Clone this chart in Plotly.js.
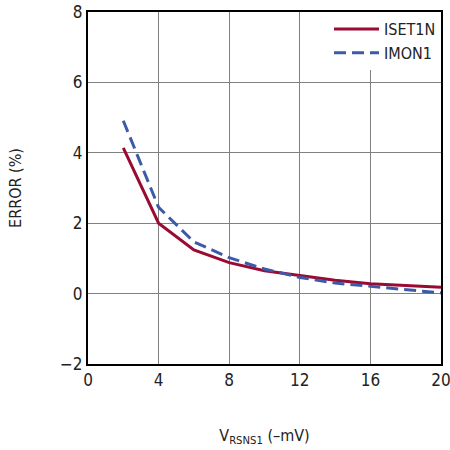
<!DOCTYPE html>
<html><head><meta charset="utf-8">
<script src="https://cdn.plot.ly/plotly-3.0.1.min.js"></script>
<style>body{margin:0;padding:0;background:#fff}#c{width:450px;height:450px}</style>
</head><body><div id="c"></div>
<script>
const xIset = [2, 4, 6, 8, 10, 12, 14, 16, 18, 20];
const yIset = [4.14, 2.0, 1.24, 0.88, 0.65, 0.51, 0.38, 0.28, 0.22, 0.18];
const xImon = [2, 4, 6, 8, 10, 12, 14, 16, 18, 20];
const yImon = [4.91, 2.45, 1.47, 1.02, 0.70, 0.46, 0.30, 0.20, 0.10, 0.02];
const xTicks = [0, 4, 8, 12, 16, 20];
const xTickText = ['0', '4', '8', '12', '16', '20'];
const yTicks = [-2, 0, 2, 4, 6, 8];
const yTickText = ['\u22122', '0', '2', '4', '6', '8'];

const font = "'DejaVu Sans Condensed', 'Liberation Sans Narrow', Roboto, sans-serif";

const traces = [
  {x: xIset, y: yIset, name: 'ISET1N', mode: 'lines', line: {color: '#9a0b34', width: 3}},
  {x: xImon, y: yImon, name: 'IMON1', mode: 'lines', line: {color: '#3b5ba9', width: 3, dash: '12px,6px'}}
];
const layout = {
  width: 450, height: 450,
  margin: {l: 88, r: 9, t: 12, b: 86},
  paper_bgcolor: '#fff', plot_bgcolor: '#fff',
  font: {family: font, size: 15, color: '#222'},
  showlegend: true,
  legend: {x: 1, y: 1, xanchor: 'right', yanchor: 'top', bgcolor: '#fff', borderwidth: 0,
           font: {family: font, size: 16, color: '#222'}, itemwidth: 45, tracegroupgap: 0},
  xaxis: {range: [0, 20], tickvals: xTicks, ticktext: xTickText, showgrid: true, gridcolor: '#808080', gridwidth: 1,
          zeroline: false, showline: true, linecolor: '#000', linewidth: 2, mirror: true, ticks: '',
          ticklabeloverflow: 'allow', tickfont: {size: 17}, fixedrange: true,
          title: {text: 'V<sub>RSNS1</sub> (\u2013mV)', font: {size: 16}, standoff: 40}},
  yaxis: {range: [-2, 8], tickvals: yTicks, ticktext: yTickText, showgrid: true, gridcolor: '#808080', gridwidth: 1,
          zeroline: false, showline: true, linecolor: '#000', linewidth: 2, mirror: true, ticks: '',
          tickfont: {size: 17}, fixedrange: true,
          title: {text: 'ERROR (%)', font: {size: 16}, standoff: 34}}
};
Plotly.newPlot('c', traces, layout, {displayModeBar: false, staticPlot: true});
</script></body></html>
